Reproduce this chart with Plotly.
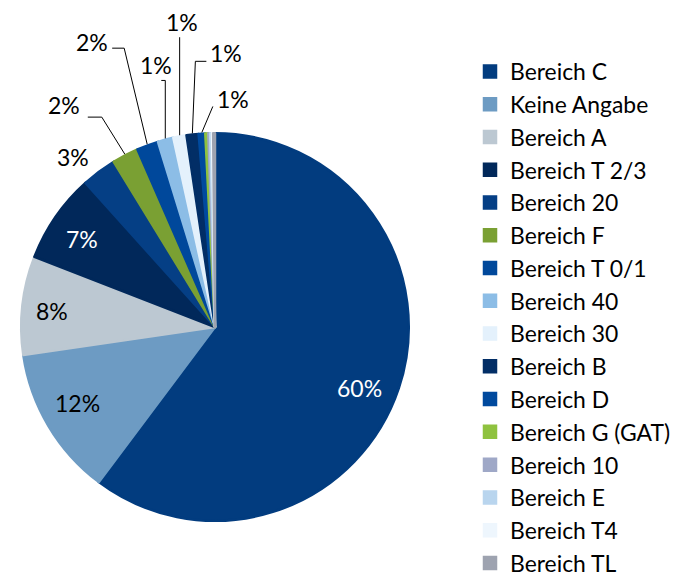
import math
import plotly.graph_objects as go

# ---------------- data ----------------
categories = ["Bereich C", "Keine Angabe", "Bereich A", "Bereich T 2/3", "Bereich 20",
              "Bereich F", "Bereich T 0/1", "Bereich 40", "Bereich 30", "Bereich B",
              "Bereich D", "Bereich G (GAT)", "Bereich 10", "Bereich E", "Bereich T4",
              "Bereich TL"]
shares = [60.2, 12.45, 8.2, 7.45, 2.9, 2.2, 1.8, 1.3, 1.1, 1.0,
          0.55, 0.25, 0.15, 0.15, 0.1, 0.15]
colors = ["#023C7F", "#6D9BC3", "#BCC8D2", "#01285A", "#053F85", "#7AA033",
          "#00489B", "#8CBDE6", "#E4F1FC", "#022E66", "#004A9E", "#8FC23F",
          "#9FA8C7", "#B9D5EE", "#EEF6FD", "#9EA3B0"]

# ---------------- layout constants ----------------
OFF = 8                      # page body margin
W, H = 698 - OFF, 590
CX, CY, R = 215, 327, 195    # screen pixel geometry of the pie
EDGE = 2.5                   # same-colour slice outline (enlarges legend squares)
FONT = "Lato"
FS = 23
LFS = 22.9

def px(x):
    return (x - OFF) / W

def py(y):
    return 1 - (y - OFF) / H

r_dom = R - EDGE / 2
fig = go.Figure(go.Pie(
    labels=categories, values=shares, sort=False, direction="clockwise",
    rotation=0,
    marker=dict(colors=colors, line=dict(width=EDGE, color=colors)),
    textinfo="none", hoverinfo="label+percent",
    domain=dict(x=[px(CX - r_dom), px(CX + r_dom)],
                y=[py(CY + r_dom), py(CY - r_dom)]),
))

# label placement: inside labels -> radius factor + nudge; leader labels -> offsets (px)
inside = {0: (0.80, (-4, 12), "white"), 1: (0.81, (-2, -5), "black"),
          2: (0.84, (0, 2), "black"), 3: (0.815, (-2, 2), "white"),
          4: (1.135, (-10, 7), "black")}
leader = {  # elbow offset, line-end offset, text offset (relative to edge point)
    5: ((-23, -37), (-37, -37), (-61, -49)),
    6: ((-23, -96), (-35, -96), (-55, -102)),
    7: ((0, -58), (-4, -58), (-9, -73)),
    8: ((0, -98), (0, -98), (2, -113)),
    9: ((3, -72), (14, -72), (34, -80)),
    10: ((11, -26), (11, -26), (31, -33)),
}

total = sum(shares)
cum = 0.0
annotations, shapes = [], []
for i, v in enumerate(shares):
    mid = (cum + v / 2) / total * 2 * math.pi
    cum += v
    pct = math.floor(v / total * 100 + 0.5)
    if pct < 1:
        continue
    s, c = math.sin(mid), math.cos(mid)
    txt = f"{pct}%"
    if i in inside:
        k, (nx, ny), col = inside[i]
        tx, ty = CX + k * R * s + nx, CY - k * R * c + ny
    elif i in leader:
        ex, ey = CX + R * s, CY - R * c
        (bx, by), (lx, ly), (ox, oy) = leader[i]
        path = (f"M{px(ex)},{py(ey)} L{px(ex + bx)},{py(ey + by)} "
                f"L{px(ex + lx)},{py(ey + ly)}")
        shapes.append(dict(type="path", path=path, xref="paper", yref="paper",
                           line=dict(color="black", width=1)))
        tx, ty, col = ex + ox, ey + oy, "black"
    else:
        continue
    annotations.append(dict(x=px(tx), y=py(ty), xref="paper", yref="paper",
                            xanchor="center", yanchor="middle",
                            text=txt, showarrow=False,
                            font=dict(family=FONT, size=FS, color=col)))

fig.update_layout(
    width=W, height=H, margin=dict(l=0, r=0, t=0, b=0),
    paper_bgcolor="white", plot_bgcolor="white",
    font=dict(family=FONT, size=FS, color="black"),
    annotations=annotations, shapes=shapes,
    legend=dict(x=px(470), y=py(50), xanchor="left", yanchor="top",
                font=dict(family=FONT, size=LFS, color="black"),
                traceorder="normal"),
)

fig.write_html("out.html")
